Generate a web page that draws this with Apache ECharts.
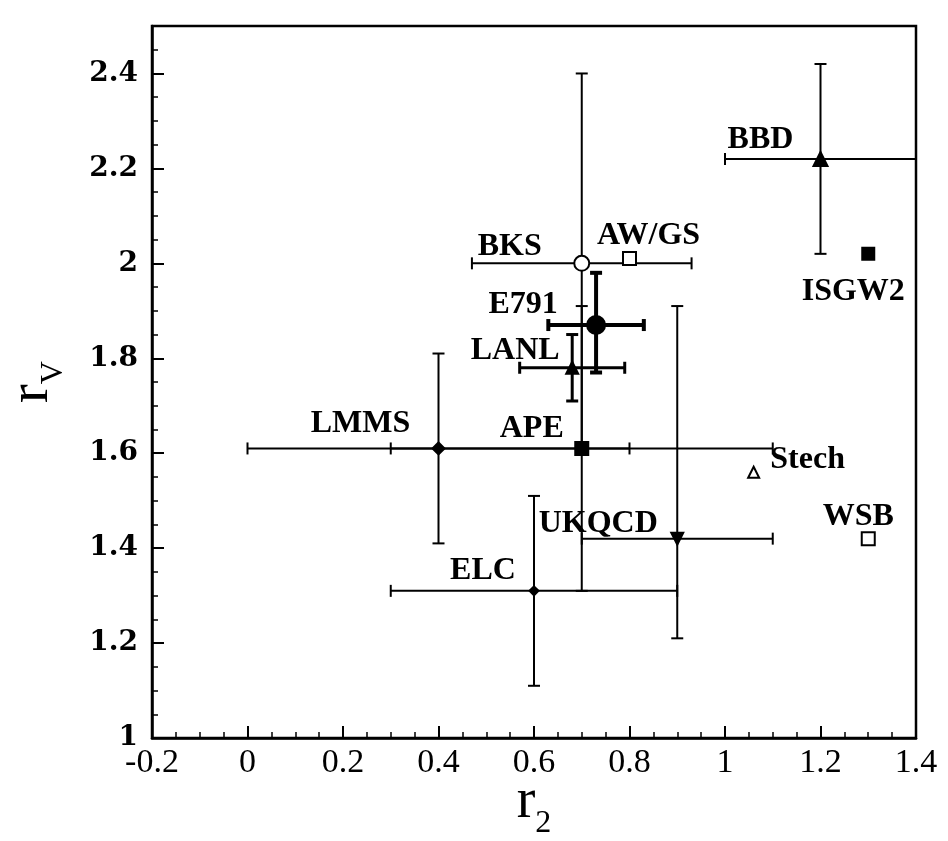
<!DOCTYPE html>
<html>
<head>
<meta charset="utf-8">
<script src="https://cdn.jsdelivr.net/npm/echarts@6/dist/echarts.min.js"></script>
<style>html,body{margin:0;padding:0;background:#fff}#c{width:948px;height:841px}</style>
</head>
<body>
<div id="c"></div>
<script>
// ---- data ----
const names = ['BKS','AW/GS','E791','LANL','LMMS','APE','UKQCD','ELC','Stech','WSB','ISGW2','BBD'];
const r2    = [0.70, 0.80, 0.73, 0.68, 0.40, 0.70, 0.90, 0.60, 1.06, 1.30, 1.30, 1.20];
const rV    = [2.00, 2.01, 1.87, 1.78, 1.61, 1.61, 1.42, 1.31, 1.56, 1.42, 2.02, 2.22];
const r2Lo  = [0.47, null, 0.63, 0.57, 0.00, 0.30, 0.70, 0.30, null, null, null, 1.00];
const r2Hi  = [0.93, null, 0.83, 0.79, 0.80, 1.10, 1.10, 0.90, null, null, null, 1.40];
const rVLo  = [1.60, null, 1.77, 1.71, 1.41, 1.31, 1.21, 1.11, null, null, null, 2.02];
const rVHi  = [2.40, null, 1.98, 1.85, 1.81, 1.91, 1.91, 1.51, null, null, null, 2.42];

// ---- styles ----
const markerStyle = {
  'BKS':   {symbol:'circle',   size:15, fill:'#fff', rot:0},
  'AW/GS': {symbol:'rect',     size:13, fill:'#fff', rot:0},
  'E791':  {symbol:'circle',   size:18, fill:'#000', rot:0},
  'LANL':  {symbol:'triangle', size:12, fill:'#000', rot:0},
  'LMMS':  {symbol:'diamond',  size:12, fill:'#000', rot:0},
  'APE':   {symbol:'rect',     size:13, fill:'#000', rot:0},
  'UKQCD': {symbol:'triangle', size:12, fill:'#000', rot:180},
  'ELC':   {symbol:'diamond',  size:9,  fill:'#000', rot:0},
  'Stech': {symbol:'triangle', size:11, fill:'#fff', rot:0},
  'WSB':   {symbol:'rect',     size:13, fill:'#fff', rot:0},
  'ISGW2': {symbol:'rect',     size:12, fill:'#000', rot:0},
  'BBD':   {symbol:'triangle', size:14, fill:'#000', rot:0}
};
const labelOffset = {
  'BKS':[-72,-17], 'AW/GS':[19,-23], 'E791':[-73,-20], 'LANL':[-57,-17],
  'LMMS':[-78,-25], 'APE':[-50,-20], 'UKQCD':[-79,-15], 'ELC':[-51,-20],
  'Stech':[54,-12], 'WSB':[-10,-22], 'ISGW2':[-15,38], 'BBD':[-60,-19]
};
const barWidth = {'E791':4, 'LANL':3};

const errData = [];
names.forEach((n,i)=>{ if (r2Lo[i] != null) errData.push([r2[i], rV[i], r2Lo[i], r2Hi[i], rVLo[i], rVHi[i], i]); });

const scatterData = names.map((n,i)=>{
  const s = markerStyle[n];
  return {
    name:n, value:[r2[i], rV[i]], symbol:s.symbol, symbolSize:s.size, symbolRotate:s.rot,
    itemStyle:{color:s.fill, borderColor:'#000', borderWidth:2, opacity:1},
    label:{offset:labelOffset[n]}
  };
});

const chart = echarts.init(document.getElementById('c'), null, {renderer:'canvas'});
chart.setOption({
  animation:false,
  backgroundColor:'#fff',
  grid:{left:152, right:32, top:26, bottom:103, containLabel:false, outerBoundsMode:'none',
    show:true, borderColor:'#000', borderWidth:2.5, backgroundColor:'transparent'},
  xAxis:{
    type:'value', min:-0.2, max:1.4, interval:0.2,
    name:'{r|r}{s|2}', nameLocation:'middle', nameGap:36, nameMoveOverlap:false,
    nameTextStyle:{rich:{
      r:{fontFamily:'Liberation Serif', fontSize:56, color:'#000', padding:[0,0,10,0], verticalAlign:'bottom'},
      s:{fontFamily:'Liberation Serif', fontSize:32, color:'#000', verticalAlign:'bottom'}
    }},
    axisLine:{show:true, onZero:false, lineStyle:{color:'#000', width:2.5}},
    axisTick:{show:true, inside:true, length:12, lineStyle:{color:'#000', width:2}},
    minorTick:{show:true, splitNumber:4, length:6, lineStyle:{color:'#000', width:1.5}},
    splitLine:{show:false},
    axisLabel:{fontFamily:'Liberation Serif', fontSize:34, color:'#000', margin:8}
  },
  yAxis:{
    type:'value', min:1, max:2.5, interval:0.2,
    name:'{r|r}{s|V}', nameLocation:'middle', nameGap:82, nameRotate:90, nameMoveOverlap:false,
    nameTextStyle:{rich:{
      r:{fontFamily:'Liberation Serif', fontSize:56, color:'#000', padding:[0,0,10,0], verticalAlign:'bottom'},
      s:{fontFamily:'Liberation Serif', fontSize:32, color:'#000', verticalAlign:'bottom'}
    }},
    axisLine:{show:true, onZero:false, lineStyle:{color:'#000', width:2.5}},
    axisTick:{show:true, inside:true, length:12, lineStyle:{color:'#000', width:2}},
    minorTick:{show:true, splitNumber:4, length:6, lineStyle:{color:'#000', width:1.5}},
    splitLine:{show:false},
    axisLabel:{fontFamily:'DejaVu Serif', fontWeight:'bold', fontSize:28, color:'#000', margin:14, showMaxLabel:false}
  },
  series:[
    {
      type:'custom', data:errData, encode:{x:0, y:1}, z:2, clip:false,
      renderItem:function(params, api){
        const idx = api.value(6);
        const lw = barWidth[names[idx]] || 2;
        const y = api.value(1), x = api.value(0);
        const L = api.coord([api.value(2), y]), R = api.coord([api.value(3), y]);
        const B = api.coord([x, api.value(4)]), T = api.coord([x, api.value(5)]);
        const cap = 6;
        const st = {stroke:'#000', lineWidth:lw};
        const ln = (x1,y1,x2,y2)=>({type:'line', shape:{x1,y1,x2,y2}, style:st});
        return {type:'group', children:[
          ln(L[0],L[1],R[0],R[1]),
          ln(B[0],B[1],T[0],T[1]),
          ln(L[0],L[1]-cap,L[0],L[1]+cap),
          ln(R[0],R[1]-cap,R[0],R[1]+cap),
          ln(B[0]-cap,B[1],B[0]+cap,B[1]),
          ln(T[0]-cap,T[1],T[0]+cap,T[1])
        ]};
      }
    },
    {
      type:'scatter', data:scatterData, z:5,
      label:{show:true, position:'inside', formatter:'{b}', color:'#000', opacity:1,
        fontFamily:'Liberation Serif', fontWeight:'bold', fontSize:32}
    }
  ]
});
</script>
</body>
</html>
